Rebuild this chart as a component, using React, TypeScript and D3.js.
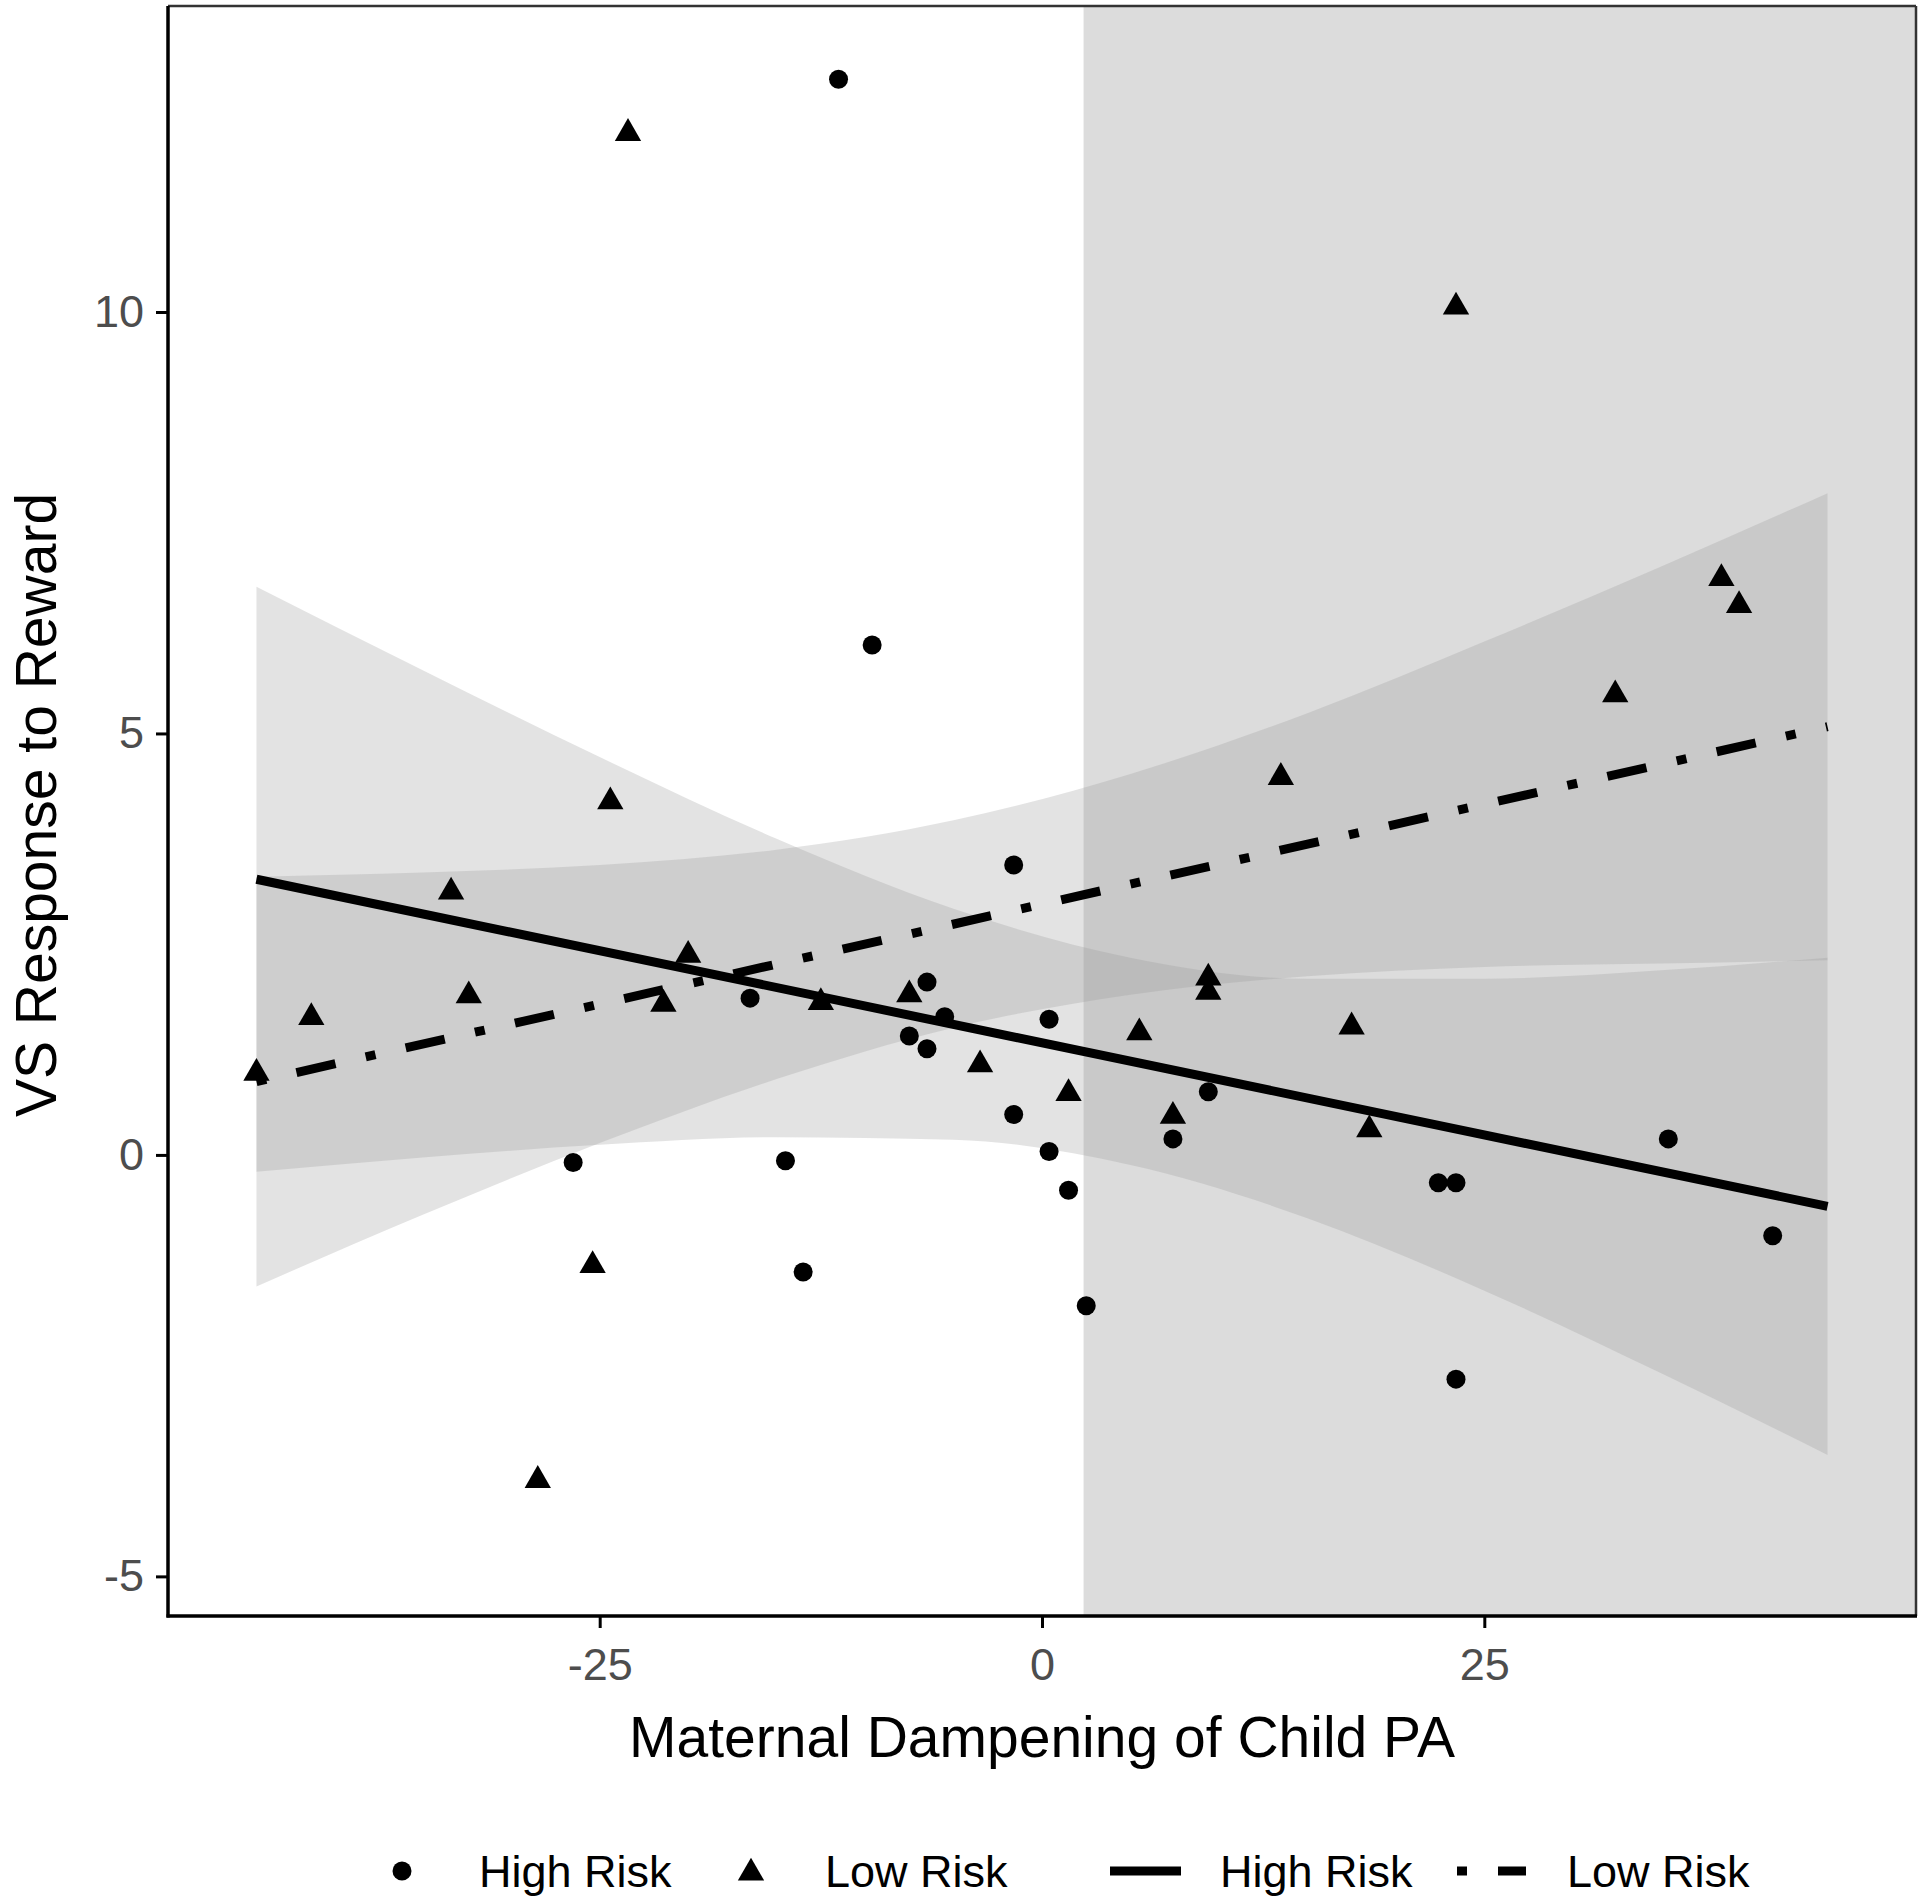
import React, { useRef, useEffect } from "react";
import * as d3 from "d3";

// High Risk participants (circles)
const highRiskX = [-11.5, -9.6, -1.6, -16.5, -6.5, -5.5, -7.5, -6.5, 0.4, -1.6, 0.4, 1.5, 2.5, -26.5, -14.5, -13.5, 7.4, 9.4, 22.4, 23.4, 23.4, 35.4, 41.3];
const highRiskY = [12.76, 6.05, 3.44, 1.86, 2.05, 1.64, 1.41, 1.26, 1.61, 0.48, 0.04, -0.42, -1.79, -0.09, -0.07, -1.39, 0.19, 0.75, -0.33, -0.33, -2.66, 0.19, -0.96];

// Low Risk participants (triangles)
const lowRiskX = [-23.4, 23.4, 38.4, 39.4, 32.4, 13.5, -24.4, -33.4, -41.3, -32.4, -20.0, -21.4, -12.5, -7.5, -44.4, -3.5, 5.5, 1.5, 7.4, 9.4, 9.4, 17.5, 18.5, -25.4, -28.5];
const lowRiskY = [12.12, 10.06, 6.84, 6.52, 5.46, 4.48, 4.19, 3.12, 1.63, 1.89, 2.37, 1.79, 1.81, 1.9, 0.97, 1.07, 1.45, 0.73, 0.46, 2.1, 1.93, 1.52, 0.3, -1.31, -3.86];

// fitted lines (ends)
const fitX = [-44.4, 44.4];
const highFitY = [3.27, -0.61];
const lowFitY = [0.87, 5.08];

// confidence bands, read at these x positions
const bandX = [-44.4, -35, -25, -15, -5, 5, 15, 25, 35, 44.4];
const highLower = [-0.2, -0.03, 0.12, 0.21, 0.18, -0.12, -0.75, -1.61, -2.59, -3.56];
const highUpper = [6.74, 5.75, 4.72, 3.75, 2.92, 2.34, 2.09, 2.09, 2.19, 2.34];
const lowLower = [-1.56, -0.71, 0.14, 0.9, 1.51, 1.9, 2.12, 2.23, 2.27, 2.31];
const lowUpper = [3.3, 3.35, 3.44, 3.62, 3.97, 4.52, 5.24, 6.09, 6.98, 7.85];

// region of significance starts here
const regionStart = 2.35;

const xTicks = [-25, 0, 25];
const yTicks = [-5, 0, 5, 10];

const W = 1920;
const H = 1904;
const FONT = "'Liberation Sans', Arial, sans-serif";

const App = () => {
    const svgRef = useRef(null);

    useEffect(() => {
        const svg = d3.select(svgRef.current);
        svg.selectAll("*").remove();

        const left = 168, right = 1916, top = 6, bottom = 1616;

        const x = d3.scaleLinear().domain([-49.4, 49.4]).range([left, right]);
        const y = d3.scaleLinear().domain([-5.47, 13.63]).range([bottom, top]);

        svg.append("rect").attr("width", W).attr("height", H).attr("fill", "#fff");

        // shaded region
        svg.append("rect")
            .attr("x", x(regionStart))
            .attr("y", top)
            .attr("width", right - x(regionStart))
            .attr("height", bottom - top)
            .attr("fill", "#dcdcdc");

        const band = (lo, hi) =>
            d3.area()
                .x((d, i) => x(bandX[i]))
                .y0((d, i) => y(lo[i]))
                .y1((d, i) => y(hi[i]))
                .curve(d3.curveMonotoneX)(bandX);

        svg.append("path").attr("d", band(highLower, highUpper)).attr("fill", "#999").attr("opacity", 0.27);
        svg.append("path").attr("d", band(lowLower, lowUpper)).attr("fill", "#999").attr("opacity", 0.27);

        const fit = (ys) =>
            d3.line()
                .x((d, i) => x(fitX[i]))
                .y((d, i) => y(ys[i]))(fitX);

        svg.append("path").attr("d", fit(highFitY))
            .attr("fill", "none").attr("stroke", "#000").attr("stroke-width", 9);
        svg.append("path").attr("d", fit(lowFitY))
            .attr("fill", "none").attr("stroke", "#000").attr("stroke-width", 9)
            .attr("stroke-dasharray", "10 31 40 31");

        // points
        svg.append("g").selectAll("circle")
            .data(highRiskX)
            .join("circle")
            .attr("cx", (d) => x(d))
            .attr("cy", (d, i) => y(highRiskY[i]))
            .attr("r", 9.5)
            .attr("fill", "#000");

        const tri = d3.symbol(d3.symbolTriangle, 300);
        svg.append("g").selectAll("path")
            .data(lowRiskX)
            .join("path")
            .attr("d", tri)
            .attr("transform", (d, i) => `translate(${x(d)},${y(lowRiskY[i])})`)
            .attr("fill", "#000");

        // border
        svg.append("line").attr("x1", left).attr("x2", right).attr("y1", top).attr("y2", top)
            .attr("stroke", "#333").attr("stroke-width", 2.5);
        svg.append("line").attr("x1", right).attr("x2", right).attr("y1", top).attr("y2", bottom)
            .attr("stroke", "#333").attr("stroke-width", 2.5);

        // axes
        const xAxis = d3.axisBottom(x).tickValues(xTicks).tickSize(12).tickPadding(20).tickFormat((d) => String(d));
        const gx = svg.append("g").attr("transform", `translate(0,${bottom})`).call(xAxis);
        const yAxis = d3.axisLeft(y).tickValues(yTicks).tickSize(12).tickPadding(12).tickFormat((d) => String(d));
        const gy = svg.append("g").attr("transform", `translate(${left},0)`).call(yAxis);

        [gx, gy].forEach((g) => {
            g.select(".domain").remove();
            g.selectAll(".tick line").attr("stroke", "#000").attr("stroke-width", 3);
            g.selectAll(".tick text")
                .style("font-family", FONT)
                .style("font-size", "45px")
                .attr("fill", "#4d4d4d");
        });

        svg.append("line").attr("x1", left).attr("x2", left).attr("y1", top).attr("y2", bottom + 1.5)
            .attr("stroke", "#000").attr("stroke-width", 3.5);
        svg.append("line").attr("x1", left - 1.5).attr("x2", right + 1).attr("y1", bottom).attr("y2", bottom)
            .attr("stroke", "#000").attr("stroke-width", 3.5);

        // titles
        svg.append("text")
            .attr("x", (left + right) / 2)
            .attr("y", 1757)
            .attr("text-anchor", "middle")
            .style("font-family", FONT)
            .style("font-size", "57px")
            .text("Maternal Dampening of Child PA");

        svg.append("text")
            .attr("transform", `translate(56,${(top + bottom) / 2 - 6}) rotate(-90)`)
            .attr("text-anchor", "middle")
            .style("font-family", FONT)
            .style("font-size", "57px")
            .text("VS Response to Reward");

        // legend
        const ly = 1871;
        const legend = svg.append("g");
        legend.append("circle").attr("cx", 402).attr("cy", ly).attr("r", 9.5).attr("fill", "#000");
        legend.append("path").attr("d", tri).attr("transform", `translate(751,${ly + 2})`).attr("fill", "#000");
        legend.append("line").attr("x1", 1110).attr("x2", 1181).attr("y1", ly).attr("y2", ly)
            .attr("stroke", "#000").attr("stroke-width", 9);
        legend.append("line").attr("x1", 1457).attr("x2", 1526).attr("y1", ly).attr("y2", ly)
            .attr("stroke", "#000").attr("stroke-width", 9).attr("stroke-dasharray", "10 31 40 31");

        const labels = [
            { x: 479, t: "High Risk" },
            { x: 825, t: "Low Risk" },
            { x: 1220, t: "High Risk" },
            { x: 1567, t: "Low Risk" },
        ];
        legend.selectAll("text")
            .data(labels)
            .join("text")
            .attr("x", (d) => d.x)
            .attr("y", ly + 16)
            .style("font-family", FONT)
            .style("font-size", "45px")
            .attr("fill", "#000")
            .text((d) => d.t);
    }, []);

    return (
        <svg
            ref={svgRef}
            width={W}
            height={H}
            style={{ position: "absolute", left: 0, top: 0, display: "block" }}
        />
    );
};

export default App;
